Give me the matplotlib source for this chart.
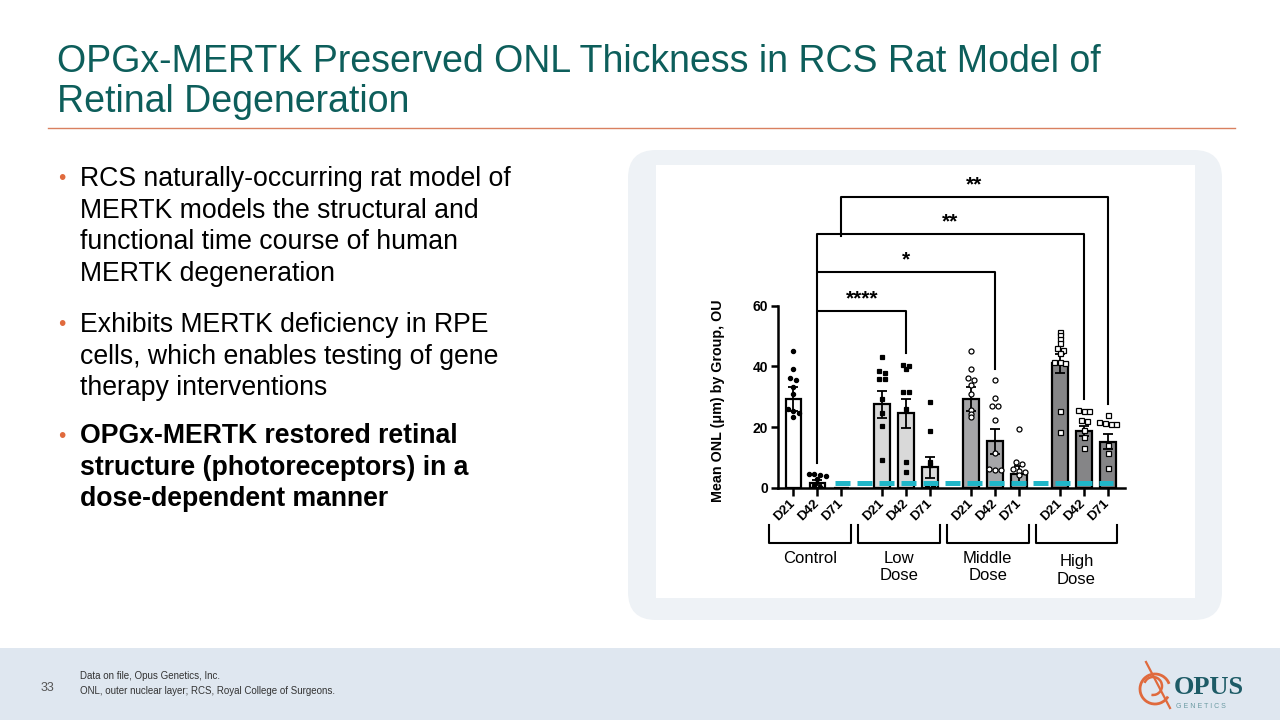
import matplotlib
matplotlib.use("Agg")
import matplotlib.pyplot as plt
from matplotlib.patches import FancyBboxPatch, Rectangle, Arc
import numpy as np

plt.rcParams['font.family'] = ['Liberation Sans', 'DejaVu Sans']

# ---- data ----
groups = ["Control", "Low\nDose", "Middle\nDose", "High\nDose"]
days = ["D21", "D42", "D71"]
means = [29.3, 1.7, 0.0, 27.5, 24.6, 6.7, 29.3, 15.3, 4.5, 41.0, 18.7, 15.2]
sems = [4.0, 0.8, 0.0, 4.5, 4.8, 3.4, 4.0, 4.1, 2.6, 3.0, 1.8, 2.4]

ctrl_d21 = [45.1, 39.2, 36.2, 35.6, 33.3, 30.9, 26.0, 25.2, 24.5, 23.2]
ctrl_d42 = [4.6, 4.4, 4.1, 3.9, 3.0, 0.6, 0.3]
ctrl_d71 = []
low_d21 = [43.3, 38.4, 38.0, 36.0, 35.8, 29.2, 24.8, 20.4, 9.1]
low_d42 = [40.5, 40.2, 39.1, 31.7, 31.6, 26.0, 8.6, 5.3]
low_d71 = [28.2, 18.6, 8.6, 7.6, 1.2, 0.5]
mid_d21 = [45.1, 39.1, 36.1, 35.5, 33.9, 30.8, 25.6, 24.2, 23.2]
mid_d42 = [35.5, 29.5, 27.0, 26.8, 22.2, 11.3, 6.3, 5.8, 6.0]
mid_d71 = [19.3, 8.4, 7.8, 6.2, 5.6, 5.3, 4.1]
high_d21 = [51.5, 50.4, 49.1, 47.9, 46.0, 45.4, 44.3, 41.6, 41.4, 41.2, 25.4, 18.3]
high_d42 = [25.6, 25.4, 25.3, 22.3, 22.0, 19.0, 16.8, 13.2]
high_d71 = [24.0, 21.6, 21.0, 20.9, 21.5, 14.1, 11.3, 6.4]
points = [ctrl_d21, ctrl_d42, ctrl_d71, low_d21, low_d42, low_d71,
          mid_d21, mid_d42, mid_d71, high_d21, high_d42, high_d71]

baseline = 1.7  # dashed reference level
# comparisons: (left bar, right bar, label)
comparisons = [(1, 4, "****"), (1, 7, "*"), (1, 10, "**"), (2, 11, "**")]

# ---- styles ----
teal = "#0d5e5b"
orange = "#e06a3d"
bar_colors = ["white", "#d9d9d9", "#a6a6a8", "#858587"]
markers = [("o", "black", 3.0), ("s", "black", 3.0), ("o", "white", 3.6), ("s", "white", 3.6)]

fig = plt.figure(figsize=(12.8, 7.2), dpi=100)
bg = fig.add_axes([0, 0, 1, 1])
bg.set_xlim(0, 1280)
bg.set_ylim(720, 0)
bg.axis("off")

# title
bg.text(57, 62, "OPGx-MERTK Preserved ONL Thickness in RCS Rat Model of",
        fontsize=27, color=teal, va="center")
bg.text(57, 102, "Retinal Degeneration", fontsize=27, color=teal, va="center")
bg.plot([48, 1235], [128, 128], color="#d98060", lw=1)

# bullets
paras = [
    (["RCS naturally-occurring rat model of", "MERTK models the structural and",
      "functional time course of human", "MERTK degeneration"], 179, "normal"),
    (["Exhibits MERTK deficiency in RPE", "cells, which enables testing of gene",
      "therapy interventions"], 325, "normal"),
    (["OPGx-MERTK restored retinal", "structure (photoreceptors) in a",
      "dose-dependent manner"], 436, "bold"),
]
for lines, y0, w in paras:
    bg.text(62, y0, "\u2022", color=orange, fontsize=15, va="center", ha="center")
    for i, ln in enumerate(lines):
        bg.text(80, y0 + i * 31.6, ln, fontsize=19.2, va="center", fontweight=w,
                color="black")

# chart panel
bg.add_patch(FancyBboxPatch((628, 150), 594, 470,
                            boxstyle="round,pad=0,rounding_size=28",
                            fc="#eef2f6", ec="none", zorder=0))
bg.add_patch(Rectangle((656, 165), 539, 433, fc="white", ec="none", zorder=1))

# footer
bg.add_patch(Rectangle((0, 648), 1280, 72, fc="#dfe7f0", ec="none", zorder=0))
bg.text(47, 688, "33", fontsize=9, color="#555555", va="center", ha="center")
bg.text(80, 676, "Data on file, Opus Genetics, Inc.", fontsize=7, color="#333333",
        va="center")
bg.text(80, 691, "ONL, outer nuclear layer; RCS, Royal College of Surgeons.",
        fontsize=7, color="#333333", va="center")

# logo
bg.text(1174, 688, "OPUS", fontsize=19, color="#1d5b66", va="center",
        family=["Liberation Serif", "DejaVu Serif"], fontweight="bold")
bg.text(1176, 706, "G E N E T I C S", fontsize=5, color="#6a9aa2", va="center")
bg.add_patch(Arc((1155, 689), 30, 30, theta1=30, theta2=340, color=orange, lw=2))
bg.add_patch(Arc((1153, 686), 18, 18, theta1=200, theta2=100, color=orange, lw=1.8))
bg.plot([1146, 1170], [662, 708], color=orange, lw=1.6)

bg.text(718, 401, "Mean ONL (\u03bcm) by Group, OU", rotation=90, fontsize=10.3,
        fontweight="bold", ha="center", va="center")

# ---- chart axes ----
ax = fig.add_axes([777.7 / 1280, (720 - 487.7) / 720, 347.3 / 1280, 303 / 720])
ax.patch.set_alpha(0)
x = np.array([g * 3.7 + d for g in range(4) for d in range(3)])
ax.set_xlim(-0.65, 13.82)
ax.set_ylim(0, 100)

for i in range(12):
    g = i // 3
    ax.bar(x[i], means[i], width=0.65, color=bar_colors[g], edgecolor="black",
           linewidth=1.6, zorder=2)
    if sems[i] > 0:
        ax.errorbar(x[i], means[i], yerr=sems[i], color="black", lw=1.3,
                    capsize=3.5, capthick=1.3, zorder=4)
    vals = sorted(points[i], reverse=True)
    offs = []
    j = 0
    while j < len(vals):
        k = j
        while k + 1 < len(vals) and vals[k] - vals[k + 1] < 1.0 and k - j < 3:
            k += 1
        n = k - j + 1
        offs += [(m - (n - 1) / 2) * 0.24 for m in range(n)]
        j = k + 1
    mk, fc, ms = markers[g]
    if vals:
        ax.plot(x[i] + np.array(offs), vals, ls="none", marker=mk, ms=ms,
                mfc=fc, mec="black", mew=0.9, zorder=5)

ax.plot([x[1] + 0.74, x[11] + 0.2], [baseline, baseline], color="#20b6c8",
        lw=3.6, ls=(0, (3.0, 1.4)), zorder=6)

# significance brackets
tops = [58.3, 71.2, 83.7, 95.9]
left_ends = [8.2, 58.8, 71.5, 83.0]
right_ends = [44.5, 39.2, 29.3, 27.6]
for (a, b, lab), t, le, re in zip(comparisons, tops, left_ends, right_ends):
    ax.plot([x[a], x[a], x[b], x[b]], [le, t, t, re], color="black", lw=1.5,
            clip_on=False, zorder=3)
    ax.text((x[a] + x[b]) / 2, t + 0.8, lab, ha="center", va="bottom",
            fontsize=15, fontweight="bold")

# axes styling
for s in ["top", "right"]:
    ax.spines[s].set_visible(False)
ax.spines["left"].set_bounds(0, 60)
ax.spines["left"].set_linewidth(1.8)
ax.spines["bottom"].set_linewidth(1.8)
ax.set_yticks([0, 20, 40, 60])
ax.set_yticklabels(["0", "20", "40", "60"], fontsize=10, fontweight="bold")
ax.tick_params(axis="y", length=5, width=1.8, pad=2)
ax.set_xticks(x)
ax.set_xticklabels(days * 4, rotation=45, ha="right", va="center",
                   rotation_mode="anchor", fontsize=9.5, fontweight="bold")
ax.tick_params(axis="x", length=6, width=1.8, pad=4)

# group brackets below the axis
for g in range(4):
    c = x[g * 3 + 1]
    l, r = c - 2.0, c + 1.4
    ax.plot([l, l, r, r], [-12.3, -18.3, -18.3, -12.3], color="black", lw=1.5,
            clip_on=False)
    ax.text((l + r) / 2, -20.8 if g < 3 else -22.0, groups[g], ha="center",
            va="top", fontsize=12, linespacing=1.2)

fig.savefig("out.png", dpi=100)
